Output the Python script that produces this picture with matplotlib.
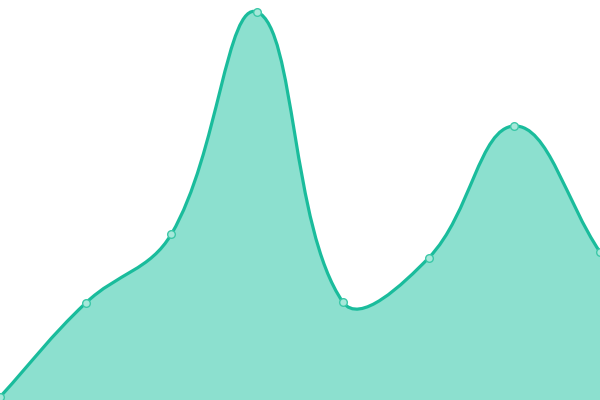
"""Smooth filled area chart with point markers."""
import numpy as np
import matplotlib
matplotlib.use('Agg')
import matplotlib.pyplot as plt
from matplotlib.path import Path
from matplotlib.patches import PathPatch

# Data
labels = ['1', '2', '3', '4', '5', '6', '7', '8']
values = [3, 97, 166, 388, 98, 142, 274, 148]

line_color = '#1abc9c'
fill_color = '#8ce0cf'
tension = 0.4


def control_points(px, py, t):
    """Bezier control points in the style of a tension spline."""
    n = len(px)
    cps = []
    for i in range(n):
        prev = (px[max(i - 1, 0)], py[max(i - 1, 0)])
        nxt = (px[min(i + 1, n - 1)], py[min(i + 1, n - 1)])
        cur = (px[i], py[i])
        d01 = np.hypot(cur[0] - prev[0], cur[1] - prev[1])
        d12 = np.hypot(nxt[0] - cur[0], nxt[1] - cur[1])
        tot = d01 + d12 if d01 + d12 > 0 else 1
        fa = t * d01 / tot
        fb = t * d12 / tot
        c_prev = (cur[0] - fa * (nxt[0] - prev[0]), cur[1] - fa * (nxt[1] - prev[1]))
        c_next = (cur[0] + fb * (nxt[0] - prev[0]), cur[1] + fb * (nxt[1] - prev[1]))
        cps.append((c_prev, c_next))
    return cps


fig = plt.figure(figsize=(6, 4), dpi=100)
ax = fig.add_axes([0, 0, 1, 1])
ax.set_xlim(0, len(values) - 1)
ax.set_ylim(0, 400)
ax.axis('off')

# work in pixel space so the tension behaves like on screen
xs = np.arange(len(values))
pix = ax.transData.transform(np.column_stack([xs, values]))
px, py = pix[:, 0], pix[:, 1]
cps = control_points(px, py, tension)

verts = [(px[0], py[0])]
codes = [Path.MOVETO]
for i in range(len(px) - 1):
    verts += [cps[i][1], cps[i + 1][0], (px[i + 1], py[i + 1])]
    codes += [Path.CURVE4] * 3

inv = ax.transData.inverted()
dverts = inv.transform(np.array(verts))

line_path = Path(dverts, codes)
bottom = [(xs[-1], 0), (xs[0], 0), (xs[0], values[0])]
fill_path = Path(np.vstack([dverts, bottom]),
                 codes + [Path.LINETO, Path.LINETO, Path.CLOSEPOLY])

ax.add_patch(PathPatch(fill_path, facecolor=fill_color, edgecolor='none', zorder=1))
ax.add_patch(PathPatch(line_path, facecolor='none', edgecolor=line_color,
                       linewidth=2.3, zorder=2))
ax.plot(xs, values, 'o', markersize=5.5, markerfacecolor='#a6e8da',
        markeredgecolor='#3cc8a8', markeredgewidth=1, zorder=3, clip_on=False)

fig.savefig('out.png', dpi=100)
